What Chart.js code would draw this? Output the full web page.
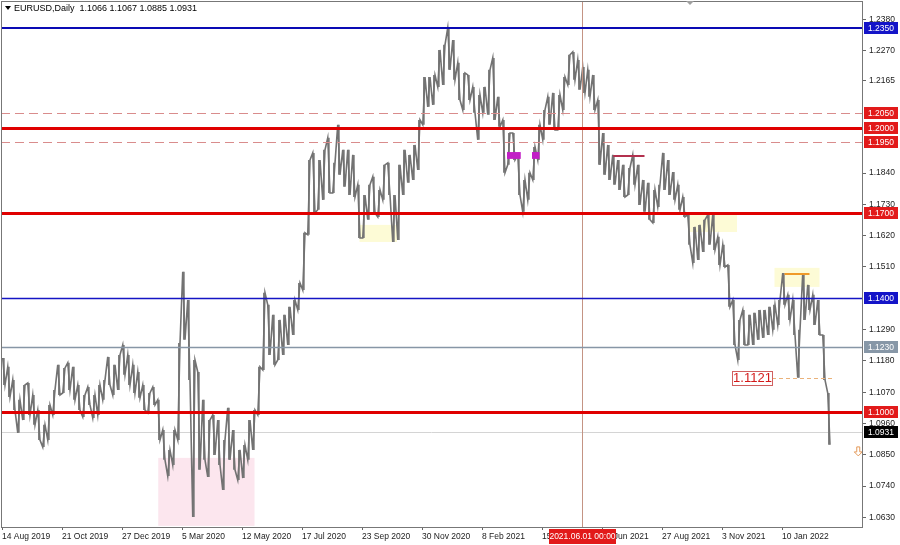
<!DOCTYPE html>
<html>
<head>
<meta charset="utf-8">
<script src="https://cdn.jsdelivr.net/npm/chart.js@4.4.1/dist/chart.umd.min.js"></script>
<style>
  html, body { margin: 0; padding: 0; background: #fff; }
</style>
</head>
<body>
<canvas id="eurusdChart" width="900" height="545"></canvas>
<script>
// EURUSD Daily - one bar per 4 trading days (high / low)
const dayStep = 4;
const highs = [
  1.1190, 1.1159, 1.1113, 1.1043, 1.1095, 1.1102, 1.1060, 1.1007, 1.0955, 1.1025,
  1.1078, 1.1166, 1.1155, 1.1173, 1.1159, 1.1095, 1.1060, 1.1088, 1.1060, 1.1095,
  1.1113, 1.1194, 1.1166, 1.1201, 1.1236, 1.1201, 1.1166, 1.1141, 1.1095, 1.1067,
  1.1088, 1.1043, 1.0937, 1.0867, 1.0937, 1.1243, 1.1493, 1.1394, 1.1183, 1.1141,
  1.1043, 1.0972, 1.0990, 1.0972, 1.0902, 1.1015, 1.0937, 1.0867, 1.0884, 1.0972,
  1.1007, 1.1159, 1.1419, 1.1377, 1.1342, 1.1324, 1.1342, 1.1370, 1.1394, 1.1454,
  1.1630, 1.1886, 1.1911, 1.1886, 1.1922, 1.1964, 1.1876, 1.2010, 1.1922, 1.1922,
  1.1904, 1.1799, 1.1763, 1.1799, 1.1827, 1.1781, 1.1869, 1.1876, 1.1763, 1.1869,
  1.1922, 1.1904, 1.1939, 1.2027, 1.2178, 1.2178, 1.2185, 1.2273, 1.2291, 1.2351,
  1.2308, 1.2228, 1.2192, 1.2185, 1.2143, 1.2115, 1.2143, 1.2203, 1.2245, 1.2108,
  1.2027, 1.1981, 1.1981, 1.1904, 1.1816, 1.1841, 1.1932, 1.2010, 1.2062, 1.2108,
  1.2122, 1.2115, 1.2178, 1.2256, 1.2266, 1.2238, 1.2213, 1.2203, 1.2185, 1.2097,
  1.1981, 1.1939, 1.1904, 1.1886, 1.1869, 1.1858, 1.1904, 1.1869, 1.1816, 1.1806,
  1.1781, 1.1799, 1.1911, 1.1886, 1.1844, 1.1799, 1.1756, 1.1693, 1.1651, 1.1658,
  1.1676, 1.1693, 1.1693, 1.1616, 1.1588, 1.1517, 1.1394, 1.1324, 1.1359, 1.1342,
  1.1349, 1.1359, 1.1359, 1.1370, 1.1377, 1.1394, 1.1489, 1.1412, 1.1394, 1.1289,
  1.1489, 1.1447, 1.1412, 1.1394, 1.1271, 1.1067
];
const lows = [
  1.1095, 1.1053, 1.1007, 1.0927, 1.0972, 1.0990, 1.0955, 1.0902, 1.0877, 1.0902,
  1.0990, 1.1060, 1.1067, 1.1078, 1.1043, 1.1007, 1.0983, 1.1025, 1.0979, 1.0990,
  1.1043, 1.1095, 1.1060, 1.1078, 1.1131, 1.1095, 1.1067, 1.1050, 1.1007, 1.0997,
  1.1025, 1.0902, 1.0832, 1.0775, 1.0814, 1.0902, 1.1254, 1.1113, 1.0631, 1.0797,
  1.0832, 1.0772, 1.0849, 1.0814, 1.0726, 1.0832, 1.0797, 1.0761, 1.0768, 1.0832,
  1.0867, 1.0990, 1.1148, 1.1201, 1.1166, 1.1183, 1.1201, 1.1236, 1.1271, 1.1359,
  1.1429, 1.1623, 1.1700, 1.1711, 1.1746, 1.1770, 1.1770, 1.1834, 1.1792, 1.1763,
  1.1756, 1.1612, 1.1612, 1.1676, 1.1700, 1.1686, 1.1746, 1.1763, 1.1598, 1.1605,
  1.1763, 1.1806, 1.1816, 1.1851, 1.2010, 1.2073, 1.2080, 1.2143, 1.2150, 1.2203,
  1.2168, 1.2097, 1.2062, 1.2097, 1.2052, 1.1957, 1.2052, 1.2045, 1.2027, 1.2003,
  1.1841, 1.1869, 1.1886, 1.1763, 1.1704, 1.1746, 1.1816, 1.1886, 1.1957, 1.2010,
  1.1992, 1.1992, 1.2062, 1.2150, 1.2168, 1.2133, 1.2122, 1.2108, 1.2062, 1.1869,
  1.1834, 1.1816, 1.1799, 1.1781, 1.1756, 1.1763, 1.1799, 1.1728, 1.1704, 1.1676,
  1.1665, 1.1721, 1.1781, 1.1763, 1.1746, 1.1711, 1.1686, 1.1588, 1.1524, 1.1535,
  1.1563, 1.1588, 1.1570, 1.1517, 1.1510, 1.1370, 1.1236, 1.1183, 1.1236, 1.1236,
  1.1236, 1.1254, 1.1261, 1.1271, 1.1289, 1.1306, 1.1377, 1.1324, 1.1271, 1.1121,
  1.1324, 1.1359, 1.1306, 1.1271, 1.1113, 1.0885
];

// axis labels (date ticks every 48 trading days from 14 Aug 2019)
const dateLabels = ['14 Aug 2019', '21 Oct 2019', '27 Dec 2019', '5 Mar 2020', '12 May 2020', '17 Jul 2020',
  '23 Sep 2020', '30 Nov 2020', '8 Feb 2021', '15 Apr 2021', '22 Jun 2021', '27 Aug 2021', '3 Nov 2021', '10 Jan 2022'];
const dateTickStep = 48;
const priceTicks = [1.2380, 1.2270, 1.2165, 1.1840, 1.1730, 1.1620, 1.1510, 1.1290, 1.1180, 1.1070, 1.0960, 1.0850, 1.0740, 1.0630];

// levels drawn on the chart
const redLevels = [1.2000, 1.1700, 1.1000];
const blueLevels = [1.2350, 1.1400];
const dashedLevels = [1.2050, 1.1950];
const greyLevel = 1.1230;
const bidPrice = 1.0931;
const lastBar = { open: 1.1066, high: 1.1067, low: 1.0885, close: 1.0931 };
const markedLow = 1.1121;
const orangeHigh = 1.1486;
const redShortLevel = 1.1900;
const splitDay = 464; // 2021.06.01

// zones: [fromDay, toDay, topPrice, bottomPrice]
const pinkZone = [125, 202, 1.0839, 1.0600];
const yellowZones = [[286, 316, 1.1658, 1.1598], [549, 588, 1.1693, 1.1633], [618, 654, 1.1507, 1.1440]];
const magentaMarks = [[404, 415, 1.1914, 1.1890], [424, 430, 1.1914, 1.1890]];

const FONT = '"Liberation Sans", Arial, sans-serif';

// path through each block's high and low, in the order the price moved
const pricePath = [];
highs.forEach((h, i) => {
  const l = lows[i];
  const next = i < highs.length - 1 ? (highs[i + 1] + lows[i + 1]) / 2 : l;
  const rising = next > (h + l) / 2;
  pricePath.push({ x: i * dayStep + 0.6, y: rising ? l : h });
  pricePath.push({ x: i * dayStep + 2.4, y: rising ? h : l });
});

function hLine(ctx, area, y, color, width, dash, x0, x1) {
  ctx.save();
  ctx.strokeStyle = color;
  ctx.lineWidth = width;
  ctx.setLineDash(dash || []);
  const yy = Math.round(y) + (width % 2 ? 0.5 : 0);
  ctx.beginPath();
  ctx.moveTo(x0 === undefined ? area.left : x0, yy);
  ctx.lineTo(x1 === undefined ? area.right : x1, yy);
  ctx.stroke();
  ctx.restore();
}

function axisTag(ctx, area, y, text, bg) {
  ctx.save();
  ctx.fillStyle = bg;
  ctx.fillRect(area.right + 2, Math.round(y) - 6, 34, 12);
  ctx.fillStyle = '#fff';
  ctx.font = '8.5px ' + FONT;
  ctx.textBaseline = 'middle';
  ctx.textAlign = 'left';
  ctx.fillText(text, area.right + 6, Math.round(y) + 0.5);
  ctx.restore();
}

const mtOverlay = {
  id: 'mtOverlay',
  beforeDatasetsDraw(chart) {
    const { ctx, chartArea: area, scales: { x, y } } = chart;
    ctx.save();
    ctx.beginPath();
    ctx.rect(area.left, area.top, area.right - area.left, area.bottom - area.top);
    ctx.clip();
    const box = (z, color) => {
      const x0 = x.getPixelForValue(z[0]), x1 = x.getPixelForValue(z[1]);
      const y0 = y.getPixelForValue(z[2]), y1 = y.getPixelForValue(z[3]);
      ctx.fillStyle = color;
      ctx.fillRect(x0, y0, x1 - x0, y1 - y0);
    };
    box(pinkZone, '#fce6ee');
    yellowZones.forEach(z => box(z, '#fdfbd6'));
    // bid line
    hLine(ctx, area, y.getPixelForValue(bidPrice), '#d4d4d4', 1);
    ctx.restore();
  },
  afterDatasetsDraw(chart) {
    const { ctx, chartArea: area, scales: { x, y } } = chart;
    ctx.save();
    ctx.beginPath();
    ctx.rect(area.left, area.top, area.right - area.left, area.bottom - area.top);
    ctx.clip();

    // period separator
    const vx = Math.round(x.getPixelForValue(splitDay)) + 0.5;
    ctx.strokeStyle = '#c49484';
    ctx.lineWidth = 1;
    ctx.beginPath();
    ctx.moveTo(vx, area.top);
    ctx.lineTo(vx, area.bottom);
    ctx.stroke();

    dashedLevels.forEach(p => hLine(ctx, area, y.getPixelForValue(p), '#d98c8c', 1, [9, 5]));
    hLine(ctx, area, y.getPixelForValue(greyLevel), '#8796a6', 1.5);
    hLine(ctx, area, y.getPixelForValue(blueLevels[0]), '#0a0ab4', 2);
    hLine(ctx, area, y.getPixelForValue(blueLevels[1]), '#1515c4', 1.5);
    redLevels.forEach(p => hLine(ctx, area, y.getPixelForValue(p), '#e00000', 3));

    // magenta marks
    ctx.fillStyle = '#c21fc6';
    magentaMarks.forEach(m => {
      const x0 = x.getPixelForValue(m[0]), x1 = x.getPixelForValue(m[1]);
      const y0 = y.getPixelForValue(m[2]), y1 = y.getPixelForValue(m[3]);
      ctx.fillRect(x0, y0, x1 - x0, y1 - y0);
    });

    // short red line after the split, orange top line
    hLine(ctx, area, y.getPixelForValue(redShortLevel), '#b3304e', 2, null, x.getPixelForValue(489), x.getPixelForValue(514));
    hLine(ctx, area, y.getPixelForValue(orangeHigh), '#f09a28', 2, null, x.getPixelForValue(626), x.getPixelForValue(646));

    // 1.1121 marked low
    const my = y.getPixelForValue(markedLow);
    hLine(ctx, area, my, '#eab27a', 1, [4, 3], x.getPixelForValue(616), x.getPixelForValue(666));
    const lx0 = x.getPixelForValue(584), lx1 = x.getPixelForValue(616);
    ctx.fillStyle = '#fff';
    ctx.fillRect(lx0, my - 7, lx1 - lx0, 14);
    ctx.strokeStyle = '#d06060';
    ctx.lineWidth = 1;
    ctx.strokeRect(Math.round(lx0) + 0.5, Math.round(my - 7) + 0.5, Math.round(lx1 - lx0), 14);
    ctx.fillStyle = '#d41a1a';
    ctx.font = '13px ' + FONT;
    ctx.textAlign = 'center';
    ctx.textBaseline = 'middle';
    ctx.fillText(markedLow.toFixed(4), (lx0 + lx1) / 2 + 0.5, my + 1);

    // small down arrow at the right
    const ax = x.getPixelForValue(685), ay = y.getPixelForValue(1.0860);
    ctx.strokeStyle = '#e49a5a';
    ctx.lineWidth = 1;
    ctx.beginPath();
    ctx.moveTo(ax - 1.5, ay - 5); ctx.lineTo(ax + 1.5, ay - 5); ctx.lineTo(ax + 1.5, ay);
    ctx.lineTo(ax + 4, ay); ctx.lineTo(ax, ay + 4); ctx.lineTo(ax - 4, ay); ctx.lineTo(ax - 1.5, ay);
    ctx.closePath();
    ctx.stroke();
    ctx.restore();
  },
  afterDraw(chart) {
    const { ctx, chartArea: area, scales: { x, y } } = chart;
    // frame
    ctx.save();
    ctx.strokeStyle = '#777';
    ctx.lineWidth = 1;
    ctx.strokeRect(area.left + 0.5, area.top + 0.5, area.right - area.left, area.bottom - area.top);

    // tags on the price axis
    dashedLevels.forEach(p => axisTag(ctx, area, y.getPixelForValue(p), p.toFixed(4), '#e21a1a'));
    redLevels.forEach(p => axisTag(ctx, area, y.getPixelForValue(p), p.toFixed(4), '#e21a1a'));
    blueLevels.forEach(p => axisTag(ctx, area, y.getPixelForValue(p), p.toFixed(4), '#1414c8'));
    axisTag(ctx, area, y.getPixelForValue(greyLevel), greyLevel.toFixed(4), '#8797a7');
    axisTag(ctx, area, y.getPixelForValue(bidPrice), bidPrice.toFixed(4), '#000');

    // date tag of the separator
    const vx = x.getPixelForValue(splitDay);
    ctx.fillStyle = '#e21a1a';
    ctx.fillRect(vx - 33, area.bottom + 2, 67, 15);
    ctx.fillStyle = '#fff';
    ctx.font = '8.5px ' + FONT;
    ctx.textAlign = 'center';
    ctx.textBaseline = 'middle';
    ctx.fillText('2021.06.01 00:00', vx + 0.5, area.bottom + 10);

    // shift marker
    ctx.fillStyle = '#a0a0a0';
    ctx.beginPath();
    ctx.moveTo(686, 1); ctx.lineTo(694, 1); ctx.lineTo(690, 5);
    ctx.closePath();
    ctx.fill();

    // title
    ctx.fillStyle = '#000';
    ctx.beginPath();
    ctx.moveTo(5, 6); ctx.lineTo(11, 6); ctx.lineTo(8, 10);
    ctx.closePath();
    ctx.fill();
    ctx.font = '9px ' + FONT;
    ctx.textAlign = 'left';
    ctx.textBaseline = 'middle';
    ctx.fillText('EURUSD,Daily  ' + [lastBar.open, lastBar.high, lastBar.low, lastBar.close].map(v => v.toFixed(4)).join(' '), 14, 8.5);
    ctx.restore();
  }
};

const noPad = s => { s.paddingTop = 0; s.paddingBottom = 0; s.paddingLeft = 0; s.paddingRight = 0; };

const ctx = document.getElementById('eurusdChart').getContext('2d');
new Chart(ctx, {
  type: 'bar',
  data: {
    datasets: [{
      type: 'line',
      label: 'EURUSD path',
      data: pricePath,
      borderColor: '#727272',
      borderWidth: 1.6,
      pointRadius: 0,
      tension: 0
    }, {
      label: 'EURUSD',
      data: highs.map((h, i) => ({ x: i * dayStep + 1.5, y: [lows[i], h] })),
      backgroundColor: '#808080',
      borderWidth: 0,
      barPercentage: 0.35,
      categoryPercentage: 1
    }]
  },
  options: {
    responsive: false,
    animation: false,
    devicePixelRatio: 1,
    layout: { padding: { left: 1, top: 1, right: 0, bottom: 0 } },
    plugins: { legend: { display: false }, tooltip: { enabled: false } },
    scales: {
      x: {
        type: 'linear',
        min: -0.8,
        max: 688,
        offset: false,
        afterBuildTicks: s => { s.ticks = dateLabels.map((_, i) => ({ value: i * dateTickStep })); },
        afterFit: s => { s.height = 18; noPad(s); },
        ticks: {
          autoSkip: false, maxRotation: 0, minRotation: 0, align: 'start', padding: 2,
          color: '#222', font: { family: FONT, size: 8.5 },
          callback: v => dateLabels[Math.round(v / dateTickStep)]
        },
        grid: { drawOnChartArea: false, tickLength: 3, color: '#666', offset: false },
        border: { color: '#777' }
      },
      y: {
        position: 'right',
        min: 1.0596,
        max: 1.2445,
        afterBuildTicks: s => { s.ticks = priceTicks.map(v => ({ value: v })); },
        afterFit: s => { s.width = 38; noPad(s); },
        ticks: {
          padding: 3, color: '#222', font: { family: FONT, size: 8.5 },
          callback: v => v.toFixed(4)
        },
        grid: { drawOnChartArea: false, tickLength: 4, color: '#666' },
        border: { color: '#777' }
      }
    }
  },
  plugins: [mtOverlay]
});
</script>
</body>
</html>
